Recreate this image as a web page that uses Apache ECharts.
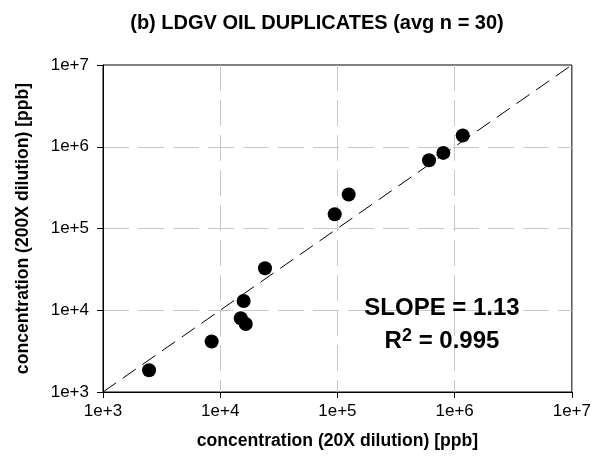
<!DOCTYPE html>
<html>
<head>
<meta charset="utf-8">
<script src="https://cdn.jsdelivr.net/npm/echarts@6/dist/echarts.min.js"></script>
<style>
  html, body { margin: 0; padding: 0; background: #fff; }
  #chart { width: 594px; height: 468px; }
</style>
</head>
<body>
<div id="chart"></div>
<script>
// Duplicate measurements: 20X dilution (x) vs 200X dilution (y), ppb
const dilution20x  = [2470, 8450, 14970, 16520, 15850, 24100, 94800, 124700, 605000, 801000, 1172000];
const dilution200x = [1845, 4140, 7980, 6790, 13000, 32700, 149600, 260600, 685000, 841000, 1374000];
// 1:1 reference line endpoints
const oneToOne = [1e3, 1e7];
const titleText = '(b) LDGV OIL DUPLICATES (avg n = 30)';
const slopeText = 'SLOPE = 1.13';
const r2Value = '0.995';

const FONT = '"Liberation Sans", Arial, sans-serif';
const points = dilution20x.map((x, i) => [x, dilution200x[i]]);
const fmt = v => '1e+' + Math.round(Math.log10(v));

const logAxis = (name, gap, labelMargin) => ({
  type: 'log',
  logBase: 10,
  min: 1e3,
  max: 1e7,
  name: name,
  nameLocation: 'middle',
  nameGap: gap,
  nameTextStyle: { fontFamily: FONT, fontWeight: 'bold', fontSize: 17.6, color: '#000' },
  axisLine: { show: true, lineStyle: { color: '#000', width: 1 } },
  axisTick: { show: true, length: 6, lineStyle: { color: '#000' } },
  minorTick: { show: false },
  axisLabel: { formatter: fmt, fontFamily: FONT, fontSize: 17, color: '#000', margin: labelMargin },
  splitLine: {
    show: true, showMinLine: false, showMaxLine: false,
    lineStyle: { color: '#c8c8c8', type: [26, 9], width: 1 }
  }
});

const chart = echarts.init(document.getElementById('chart'), null, { renderer: 'canvas' });
chart.setOption({
  animation: false,
  backgroundColor: '#fff',
  title: {
    text: titleText,
    left: 312, top: 8, textAlign: 'center',
    textStyle: { fontFamily: FONT, fontWeight: 'bold', fontSize: 20, color: '#000' }
  },
  grid: {
    left: 103, top: 65, right: 22, bottom: 76,
    show: true, borderColor: '#000', borderWidth: 1, backgroundColor: 'transparent'
  },
  xAxis: logAxis('concentration (20X dilution) [ppb]', 40, 11),
  yAxis: logAxis('concentration (200X dilution) [ppb]', 71, 14),
  series: [
    {
      type: 'line',
      data: [[oneToOne[0], oneToOne[0]], [oneToOne[1], oneToOne[1]]],
      symbol: 'none',
      lineStyle: { color: '#000', width: 1, type: [16, 8] },
      z: 2
    },
    {
      type: 'scatter',
      data: points,
      symbol: 'circle',
      symbolSize: 14,
      itemStyle: { color: '#000', opacity: 1 },
      z: 3
    }
  ],
  graphic: [
    {
      type: 'text',
      z: 10,
      style: {
        x: 442, y: 308,
        text: slopeText,
        align: 'center', verticalAlign: 'middle',
        font: 'bold 24px ' + FONT, fill: '#000'
      }
    },
    {
      type: 'text',
      z: 10,
      style: {
        x: 442, y: 340,
        text: '{r|R}{s|2}{r| = ' + r2Value + '}',
        align: 'center', verticalAlign: 'middle',
        rich: {
          r: { fontFamily: FONT, fontWeight: 'bold', fontSize: 24, color: '#000', verticalAlign: 'bottom' },
          s: { fontFamily: FONT, fontWeight: 'bold', fontSize: 18, color: '#000', verticalAlign: 'top', padding: [0, 0, 8, 0] }
        }
      }
    }
  ]
});
</script>
</body>
</html>
